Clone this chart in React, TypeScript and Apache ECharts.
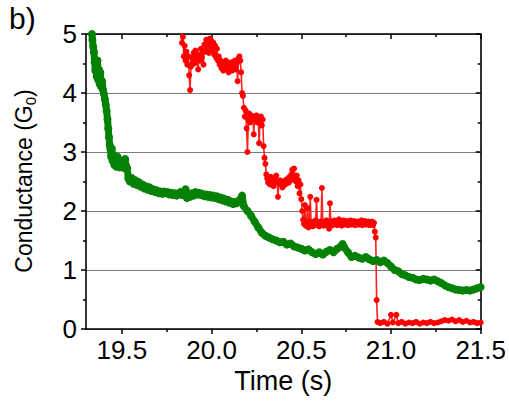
import React, { useEffect, useRef } from "react";
import * as echarts from "echarts";

const xMajorTicks = [19.5, 20.0, 20.5, 21.0, 21.5];
const xMinorTicks = [19.75, 20.25, 20.75, 21.25];

const greenT = [
  19.333, 19.336, 19.34, 19.344, 19.348, 19.352, 19.356, 19.36, 19.364, 19.368, 19.372, 19.376, 19.38, 19.385, 19.39, 19.395,
  19.4, 19.405, 19.41, 19.415, 19.42, 19.424, 19.428, 19.432, 19.436, 19.44, 19.444, 19.448, 19.453, 19.458, 19.464, 19.47,
  19.476, 19.482, 19.488, 19.494, 19.5, 19.506, 19.512, 19.518, 19.524, 19.53, 19.536, 19.545, 19.555, 19.565, 19.575, 19.585,
  19.595, 19.605, 19.615, 19.625, 19.635, 19.645, 19.655, 19.665, 19.675, 19.685, 19.695, 19.705, 19.715, 19.725, 19.735, 19.745,
  19.755, 19.765, 19.775, 19.785, 19.795, 19.805, 19.815, 19.825, 19.835, 19.845, 19.855, 19.862, 19.87, 19.88, 19.89, 19.9,
  19.91, 19.92, 19.93, 19.94, 19.95, 19.96, 19.97, 19.98, 19.99, 20.0, 20.01, 20.02, 20.03, 20.04, 20.05, 20.06,
  20.07, 20.08, 20.09, 20.1, 20.11, 20.12, 20.13, 20.14, 20.15, 20.16, 20.17, 20.18, 20.2, 20.22, 20.24, 20.26,
  20.28, 20.3, 20.32, 20.34, 20.36, 20.38, 20.4, 20.42, 20.44, 20.46, 20.48, 20.5, 20.52, 20.54, 20.56, 20.58,
  20.6, 20.62, 20.64, 20.66, 20.68, 20.7, 20.72, 20.73, 20.74, 20.76, 20.78, 20.8, 20.82, 20.84, 20.86, 20.88,
  20.9, 20.92, 20.94, 20.96, 20.98, 21.0, 21.02, 21.04, 21.06, 21.08, 21.1, 21.12, 21.14, 21.16, 21.18, 21.2,
  21.22, 21.24, 21.26, 21.28, 21.3, 21.32, 21.34, 21.36, 21.38, 21.4, 21.42, 21.44, 21.46, 21.48, 21.5,
];
const greenG = [
  5.0, 4.9, 4.78, 4.7, 4.52, 4.38, 4.5, 4.28, 4.55, 4.22, 4.4, 4.15, 4.35, 4.1, 4.2, 4.05,
  3.98, 3.9, 3.8, 3.7, 3.55, 3.4, 3.25, 3.12, 3.05, 2.92, 3.06, 2.85, 2.95, 2.78, 2.88, 2.75,
  2.92, 2.8, 2.74, 2.85, 2.77, 2.82, 2.73, 2.88, 2.76, 2.72, 2.55, 2.5, 2.56, 2.46, 2.52, 2.44,
  2.49, 2.41, 2.45, 2.38, 2.42, 2.36, 2.4, 2.34, 2.37, 2.32, 2.35, 2.3, 2.33, 2.29, 2.33, 2.3,
  2.32, 2.28, 2.31, 2.27, 2.3, 2.26, 2.29, 2.32, 2.27, 2.3, 2.37, 2.22, 2.28, 2.24, 2.3, 2.26,
  2.32, 2.28, 2.31, 2.27, 2.29, 2.25, 2.28, 2.24, 2.27, 2.23, 2.26, 2.22, 2.25, 2.2, 2.23, 2.18,
  2.21, 2.16, 2.19, 2.14, 2.16, 2.12, 2.15, 2.13, 2.17, 2.2, 2.26, 2.08, 2.0, 1.92, 1.82, 1.72,
  1.63, 1.58, 1.55, 1.52, 1.5, 1.47, 1.48, 1.43, 1.45, 1.4, 1.38, 1.36, 1.33, 1.35, 1.3, 1.27,
  1.3, 1.26, 1.31, 1.34, 1.3, 1.36, 1.4, 1.44, 1.38, 1.3, 1.22, 1.24, 1.21, 1.19, 1.22, 1.18,
  1.15, 1.17, 1.13, 1.16, 1.12, 1.06, 1.0, 0.98, 0.93, 0.91, 0.88, 0.87, 0.84, 0.83, 0.85, 0.84,
  0.82, 0.84, 0.81, 0.78, 0.74, 0.71, 0.69, 0.67, 0.66, 0.65, 0.66, 0.65, 0.67, 0.69, 0.71,
];

const redT = [
  19.83, 19.835, 19.84, 19.845, 19.85, 19.855, 19.86, 19.865, 19.87, 19.875, 19.88, 19.885, 19.89, 19.895, 19.9, 19.905,
  19.91, 19.915, 19.92, 19.925, 19.93, 19.935, 19.94, 19.945, 19.95, 19.955, 19.96, 19.965, 19.97, 19.975, 19.98, 19.985,
  19.99, 19.995, 20.0, 20.005, 20.01, 20.015, 20.02, 20.025, 20.03, 20.035, 20.04, 20.045, 20.05, 20.055, 20.06, 20.065,
  20.07, 20.075, 20.08, 20.085, 20.09, 20.095, 20.1, 20.105, 20.11, 20.115, 20.12, 20.125, 20.13, 20.135, 20.14, 20.145,
  20.15, 20.155, 20.16, 20.165, 20.17, 20.175, 20.18, 20.185, 20.19, 20.195, 20.2, 20.205, 20.21, 20.215, 20.22, 20.225,
  20.23, 20.235, 20.24, 20.245, 20.25, 20.255, 20.26, 20.265, 20.27, 20.275, 20.28, 20.285, 20.29, 20.295, 20.3, 20.305,
  20.31, 20.315, 20.32, 20.325, 20.33, 20.335, 20.34, 20.345, 20.35, 20.355, 20.36, 20.365, 20.37, 20.375, 20.38, 20.385,
  20.39, 20.395, 20.4, 20.405, 20.41, 20.415, 20.42, 20.425, 20.43, 20.435, 20.44, 20.445, 20.45, 20.455, 20.46, 20.465,
  20.47, 20.475, 20.48, 20.485, 20.49, 20.495, 20.5, 20.505, 20.51, 20.515, 20.52, 20.525, 20.53, 20.535, 20.54, 20.545,
  20.55, 20.555, 20.56, 20.565, 20.57, 20.575, 20.58, 20.585, 20.59, 20.595, 20.6, 20.605, 20.61, 20.615, 20.62, 20.625,
  20.63, 20.635, 20.64, 20.645, 20.65, 20.655, 20.66, 20.665, 20.67, 20.675, 20.68, 20.685, 20.69, 20.695, 20.7, 20.705,
  20.71, 20.715, 20.72, 20.725, 20.73, 20.735, 20.74, 20.745, 20.75, 20.755, 20.76, 20.765, 20.77, 20.775, 20.78, 20.785,
  20.79, 20.795, 20.8, 20.805, 20.81, 20.815, 20.82, 20.825, 20.83, 20.835, 20.84, 20.845, 20.85, 20.855, 20.86, 20.865,
  20.87, 20.875, 20.88, 20.885, 20.89, 20.895, 20.9, 20.905, 20.91, 20.915, 20.92, 20.925, 20.94, 20.96, 20.98, 21.0,
  21.01, 21.03, 21.04, 21.06, 21.08, 21.1, 21.12, 21.14, 21.16, 21.18, 21.2, 21.22, 21.24, 21.26, 21.28, 21.3,
  21.32, 21.34, 21.36, 21.38, 21.4, 21.42, 21.44, 21.46, 21.48, 21.5,
];
const redG = [
  5.05, 4.85, 4.95, 4.62, 4.8, 4.55, 4.7, 4.48, 4.62, 4.3, 4.05, 4.45, 4.6, 4.52, 4.68, 4.5,
  4.72, 4.58, 4.66, 4.4, 4.62, 4.55, 4.75, 4.6, 4.7, 4.48, 4.82, 4.7, 4.9, 4.75, 4.85, 4.68,
  4.92, 4.78, 4.88, 4.72, 4.85, 4.65, 4.8, 4.6, 4.75, 4.55, 4.62, 4.48, 4.55, 4.42, 4.52, 4.38,
  4.5, 4.45, 4.55, 4.4, 4.5, 4.35, 4.48, 4.42, 4.52, 4.38, 4.48, 4.45, 4.55, 4.4, 4.5, 4.2,
  4.58, 4.62, 4.55, 4.35, 4.0, 3.95, 3.75, 3.6, 3.7, 3.4, 3.0, 3.55, 3.65, 3.5, 3.62, 3.55,
  3.6, 3.3, 3.58, 3.55, 3.62, 3.5, 3.58, 3.15, 3.52, 3.6, 3.45, 3.55, 3.1, 2.9, 2.8, 2.62,
  2.55, 2.48, 2.52, 2.45, 2.58, 2.5, 2.55, 2.42, 2.53, 2.48, 2.6, 2.5, 2.24, 2.48, 2.52, 2.45,
  2.5, 2.4, 2.48, 2.44, 2.52, 2.46, 2.5, 2.55, 2.48, 2.58, 2.52, 2.62, 2.7, 2.55, 2.72, 2.58,
  2.5, 2.6, 2.42, 2.52, 2.3, 2.45, 2.2, 2.0, 1.85, 1.78, 2.1, 1.75, 1.8, 2.05, 1.72, 1.82,
  2.24, 1.76, 1.8, 1.74, 1.82, 1.78, 1.84, 2.19, 1.76, 1.8, 1.74, 1.82, 1.78, 2.39, 1.8, 1.75,
  1.82, 1.78, 1.84, 1.76, 1.8, 1.7, 2.13, 1.78, 1.82, 1.76, 1.8, 1.84, 1.78, 1.82, 1.76, 1.8,
  1.86, 1.78, 1.82, 1.75, 1.8, 1.84, 1.77, 1.81, 1.79, 1.83, 1.76, 1.8, 1.78, 1.84, 1.77, 1.81,
  1.79, 1.83, 1.76, 1.8, 1.78, 1.82, 1.77, 1.81, 1.79, 1.84, 1.76, 1.8, 1.78, 1.83, 1.77, 1.81,
  1.79, 1.82, 1.76, 1.8, 1.78, 1.82, 1.76, 1.8, 1.65, 1.55, 0.49, 0.12, 0.1, 0.12, 0.09, 0.24,
  0.11, 0.24, 0.1, 0.12, 0.09, 0.11, 0.1, 0.12, 0.09, 0.11, 0.1, 0.12, 0.1, 0.11, 0.13, 0.15,
  0.14, 0.16, 0.13, 0.15, 0.12, 0.14, 0.11, 0.12, 0.1, 0.11,
];

const FONT = "'Liberation Sans', Arial, Helvetica, sans-serif";

export default function App() {
  const ref = useRef<HTMLDivElement>(null);
  useEffect(() => {
    if (!ref.current) return;
    const chart = echarts.init(ref.current, undefined, { renderer: "svg" });
    const green = greenT.map((t, i) => [t, greenG[i]]);
    const red = redT.map((t, i) => [t, redG[i]]);
    const axisLine = { show: true, lineStyle: { color: "#000", width: 1.6 } };
    const baseX = {
      type: "value" as const,
      min: 19.3,
      max: 21.5,
      splitLine: { show: false },
      axisLine,
    };
    chart.setOption({
      animation: false,
      backgroundColor: "#fff",
      textStyle: { fontFamily: FONT },
      grid: { left: 86, right: 27, top: 34, bottom: 74, containLabel: false },
      graphic: [
        {
          type: "text",
          left: 9,
          top: 3,
          style: { text: "b)", font: `30px ${FONT}`, fill: "#000" },
        },
        {
          type: "text",
          x: 24,
          y: 181,
          rotation: Math.PI / 2,
          style: {
            text: "Conductance (G{sub|0})",
            font: `23px ${FONT}`,
            fill: "#000",
            align: "center",
            verticalAlign: "middle",
            rich: {
              sub: { font: `15px ${FONT}`, fill: "#000", padding: [12, 0, 0, 0] },
            },
          },
        },
      ],
      xAxis: [
        {
          ...baseX,
          position: "bottom",
          name: "Time (s)",
          nameLocation: "middle",
          nameGap: 36,
          nameTextStyle: { fontSize: 27, color: "#000", fontFamily: FONT },
          axisTick: { show: true, customValues: xMajorTicks, length: 5, inside: false, lineStyle: { color: "#000", width: 1.5 } },
          axisLabel: {
            show: true,
            customValues: xMajorTicks,
            formatter: (v: number) => v.toFixed(1),
            fontSize: 26,
            color: "#000",
            margin: 8,
            fontFamily: FONT,
          },
        },
        {
          ...baseX,
          position: "bottom",
          axisLine: { show: false },
          axisTick: { show: true, customValues: xMinorTicks, length: 3, inside: false, lineStyle: { color: "#000", width: 1.5 } },
          axisLabel: { show: false },
        },
        {
          ...baseX,
          position: "top",
          axisTick: { show: true, customValues: xMajorTicks, length: 5, inside: true, lineStyle: { color: "#000", width: 1.5 } },
          axisLabel: { show: false },
        },
        {
          ...baseX,
          position: "top",
          axisLine: { show: false },
          axisTick: { show: true, customValues: xMinorTicks, length: 3, inside: true, lineStyle: { color: "#000", width: 1.5 } },
          axisLabel: { show: false },
        },
      ],
      yAxis: [
        {
          type: "value",
          min: 0,
          max: 5,
          interval: 1,
          position: "left",
          axisLine,
          axisTick: { show: true, length: 5, inside: false, lineStyle: { color: "#000", width: 1.5 } },
          minorTick: { show: true, splitNumber: 2, length: 3, lineStyle: { color: "#000", width: 1.5 } },
          axisLabel: { fontSize: 26, color: "#000", margin: 9, fontFamily: FONT },
          splitLine: { show: true, lineStyle: { color: "#7a7a7a", width: 1.2 } },
        },
        {
          type: "value",
          min: 0,
          max: 5,
          interval: 1,
          position: "right",
          axisLine,
          axisTick: { show: true, length: 5, inside: true, lineStyle: { color: "#000", width: 1.5 } },
          minorTick: { show: true, splitNumber: 2, length: 3, lineStyle: { color: "#000", width: 1.5 } },
          axisLabel: { show: false },
          splitLine: { show: false },
        },
      ],
      series: [
        {
          type: "line",
          name: "green",
          data: green,
          xAxisIndex: 0,
          yAxisIndex: 0,
          symbol: "circle",
          symbolSize: 8,
          showSymbol: true,
          clip: true,
          itemStyle: { color: "#058205" },
          lineStyle: { color: "#058205", width: 7 },
        },
        {
          type: "line",
          name: "red",
          data: red,
          xAxisIndex: 0,
          yAxisIndex: 0,
          symbol: "circle",
          symbolSize: 6,
          showSymbol: true,
          clip: true,
          itemStyle: { color: "#ff0000" },
          lineStyle: { color: "#ff2020", width: 1.6 },
        },
      ],
    });
    return () => chart.dispose();
  }, []);
  return <div ref={ref} style={{ width: 509, height: 403, position: "absolute", left: 0, top: 0 }} />;
}
